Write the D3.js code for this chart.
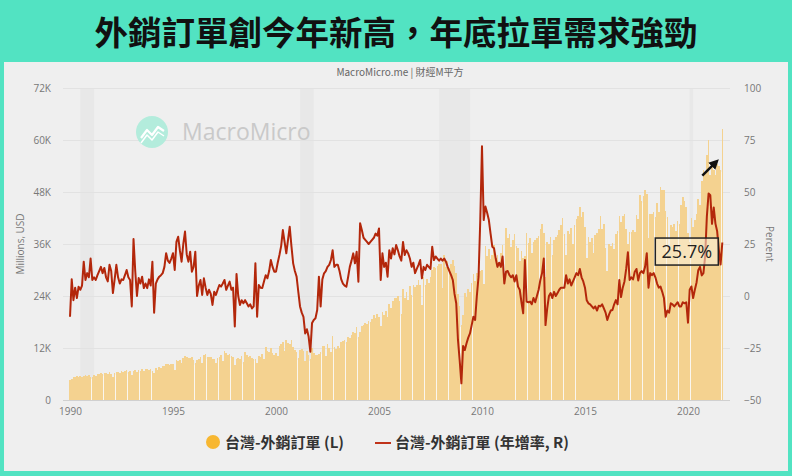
<!DOCTYPE html>
<html><head><meta charset="utf-8">
<script src="https://cdn.jsdelivr.net/npm/d3@7/dist/d3.min.js"></script>
<style>
body{margin:0;background:#52e3c2;}
svg{display:block}
text{font-family:"Open Sans","Noto Sans",sans-serif;}
.cjk{font-family:"Noto Sans CJK TC","Noto Sans CJK SC",sans-serif;}
</style>
</head><body>
<svg id="c" width="792" height="476"></svg>
<script>
// ---------- DATA ----------
const title = "外銷訂單創今年新高，年底拉單需求強勁";
const subtitle = "MacroMicro.me | 財經M平方";
const seriesNames = ["台灣-外銷訂單 (L)", "台灣-外銷訂單 (年增率, R)"];
const startYear = 1990;
// Export orders, monthly, billions USD (axis shows K of millions)
const orders1990 = [4.6,4.8,5.4,5.2,5.5,5.3,5.6,5.4,5.5,5.8,5.6,5.7];
const orders1991 = [5.4,5.2,5.8,5.6,6.0,5.9,6.2,6.0,6.2,6.3,6.0,6.4];
const orders1992 = [6.0,5.3,6.3,6.4,6.5,6.3,6.6,6.5,6.7,7.0,6.5,6.8];
const orders1993 = [5.8,6.7,7.0,6.4,7.0,6.7,7.1,6.8,7.1,7.2,7.0,7.1];
const orders1994 = [6.8,6.2,7.4,7.0,7.6,7.4,7.8,7.8,8.4,8.3,8.1,8.4];
const orders1995 = [8.2,7.0,9.3,9.0,9.3,8.6,9.7,10.2,9.9,9.6,9.8,9.9];
const orders1996 = [9.3,8.5,9.3,9.4,10.0,8.6,10.5,10.6,9.9,9.9,9.9,9.5];
const orders1997 = [9.5,8.5,9.6,9.9,10.4,9.1,11.3,10.9,10.4,10.6,10.2,9.9];
const orders1998 = [8.1,9.4,9.6,9.5,10.2,8.8,11.1,10.5,9.9,10.2,9.6,9.4];
const orders1999 = [9.4,8.5,10.1,9.9,10.6,9.4,12.2,11.4,11.1,12.0,10.9,10.5];
const orders2000 = [10.9,10.2,12.5,13.0,13.4,11.3,13.8,13.2,12.9,13.9,12.2,11.5];
const orders2001 = [11.1,9.7,11.5,11.7,11.3,9.1,11.4,10.3,9.4,12.1,10.8,10.3];
const orders2002 = [10.4,10.6,11.0,12.4,12.5,10.2,13.0,12.0,11.0,14.7,12.3,11.8];
const orders2003 = [12.5,12.0,13.3,13.6,13.8,13.5,14.5,14.2,14.9,15.8,15.5,16.8];
const orders2004 = [14.5,15.8,17.0,17.2,17.8,17.5,18.2,18.0,18.7,19.6,18.9,19.8];
const orders2005 = [19.2,17.0,20.3,19.6,20.6,19.1,22.2,21.2,22.9,23.5,23.5,24.1];
const orders2006 = [22.8,19.9,25.6,23.5,25.0,23.0,26.3,24.2,26.6,26.1,26.6,27.7];
const orders2007 = [26.5,22.0,28.5,26.5,28.0,27.0,28.5,30.0,30.8,30.5,31.0,31.5];
const orders2008 = [31.3,25.8,33.5,30.8,32.0,30.5,31.5,32.3,31.0,29.4,24.5,21.8];
const orders2009 = [17.4,19.6,24.8,23.8,25.6,25.0,27.1,29.0,27.4,29.4,26.8,29.8];
const orders2010 = [30.0,26.7,35.5,33.3,34.9,32.5,33.5,35.7,32.3,33.5,31.1,34.0];
const orders2011 = [35.7,28.3,39.6,37.3,38.4,35.4,36.9,38.2,35.5,35.0,32.0,34.3];
const orders2012 = [32.7,33.2,38.5,36.2,37.3,34.0,36.5,37.0,37.4,37.8,39.5,40.6];
const orders2013 = [38.6,28.5,36.4,36.0,37.6,33.5,36.9,37.7,38.1,39.3,40.5,42.0];
const orders2014 = [38.2,33.5,38.9,38.3,39.6,36.1,40.4,41.7,42.4,44.6,42.3,43.3];
const orders2015 = [39.9,32.8,37.7,36.5,37.5,34.0,38.1,38.5,39.4,42.4,39.5,40.6];
const orders2016 = [35.0,29.8,36.0,35.6,36.3,34.9,38.2,39.0,42.5,41.0,42.5,43.0];
const orders2017 = [39.5,36.1,38.8,38.8,39.2,38.8,42.8,41.7,47.2,46.0,47.0,48.5];
const orders2018 = [47.6,37.5,43.0,42.9,43.5,42.3,45.4,43.5,49.2,48.5,48.5,43.7];
const orders2019 = [42.3,34.5,40.4,40.0,40.6,38.9,41.3,40.6,45.0,46.9,46.0,44.5];
const orders2020 = [38.5,36.5,42.0,40.0,41.5,43.0,46.5,45.0,50.5,53.0,52.5,56.5];
const orders2021 = [60.0,52.0,55.0,53.0,52.0,54.5,54.0,53.0,62.6];
// YoY growth, percent
const yoy1990 = [-10,8,-2,4,-1,4.5,3,5,16.5,7.7,11,9];
const yoy1991 = [18,7.7,9,7.7,10,12,14,11,13.5,9,7,15];
const yoy1992 = [12,1.4,8,15,9,6,8,7.7,10,12.5,9,7.7];
const yoy1993 = [-5,27.4,12,0,8.6,6,9.3,3.8,6,3.8,8,5];
const yoy1994 = [16.5,-8,6,8,9.3,10,11,14,20.6,17,15.9,18];
const yoy1995 = [20.6,12.5,26,28.5,22,16.5,25,31,20,16.5,21.3,11.7];
const yoy1996 = [14,21.3,0,5,7.7,0.5,8.5,4,0.5,3,1,-4.3];
const yoy1997 = [2,0.5,3,5.3,4.5,6,7.7,3,5,6.9,3,4];
const yoy1998 = [-14.7,10.6,0,-4.3,-2,-3.5,-2,-3.5,-5,-4,-6,-5];
const yoy1999 = [15.7,-10,5.3,4,3.8,7,10,8.5,12,17.3,14,11.7];
const yoy2000 = [11.7,16,19.7,24,31.7,26,20.5,27,33.3,24,15.7,12];
const yoy2001 = [9.3,2,-5,-8,-10,-18,-16,-19.5,-26.8,-13,-11.5,-10.7];
const yoy2002 = [-6.7,9.3,-5,8,10.9,12,14,15,17.3,22,14,15];
const yoy2003 = [15,12,8,6,5,4.5,9,14,17,20.5,15.7,21.3];
const yoy2004 = [6.9,35,31.7,28,27,26,25,26,27,28,30,29];
const yoy2005 = [32.5,7.7,20.5,14,16,9.3,22,18,23,20,24.5,22];
const yoy2006 = [19,17,26,19.7,22,20.5,18,14,16,11,13,15];
const yoy2007 = [17.3,8.5,14,12.5,15,14,13,23.7,17.3,19,18,17];
const yoy2008 = [18,17,18,16.5,14,12,10,7.7,1,-3.5,-21,-30.8];
const yoy2009 = [-42,-24,-26,-22.7,-20,-18,-14,-10,-11.5,0,9.3,36.5];
const yoy2010 = [72,36.5,43,40,36.5,30,23.7,23,18,14,16,14];
const yoy2011 = [19,6,11.7,12,10,9,10,7,10,4.5,3,-3];
const yoy2012 = [-8.3,17.3,-2.7,-3,-2.7,-4,-1,-3,0,3,7.7,11];
const yoy2013 = [18,-14,-6,0,1.4,-1,2,0,1.4,3,4,4];
const yoy2014 = [4,10,6,8,5,7,9,11,10,13,9,7];
const yoy2015 = [4,-2,-3.5,-4,-5,-6,-5,-7,-4.7,-5,-4,-6];
const yoy2016 = [-8,-11.5,-9,-7,-6.7,-4,-2,-4,7.7,-0.5,4,7];
const yoy2017 = [13,21,7.7,9,8,11.7,13,7.5,11,12,11,14];
const yoy2018 = [20.6,4,11,10,11,9,6,4,4.5,2,-1,-10];
const yoy2019 = [-7,-8,-3.5,-4,-5,-4,-3,-5,-5,-3,-3.5,-3];
const yoy2020 = [-12.8,3,4.6,-1,3,6.5,12.4,14,9.9,11,19,38.3];
const yoy2021 = [49.3,48.5,34.7,42.6,34.8,31.1,22.1,15.2,25.7];

const leftTicks = [0,12,24,36,48,60,72];
const leftTickLabels = ["0","12K","24K","36K","48K","60K","72K"];
const rightTicks = [-50,-25,0,25,50,75,100];
const xTicks = [1990,1995,2000,2005,2010,2015,2020];
const recessions = [[1990.5,1991.17],[2001.17,2001.83],[2007.92,2009.42],[2020.08,2020.25]];
const annotationText = "25.7%";
const leftTitle = "Millions, USD";
const rightTitle = "Percent";
const watermark = "MacroMicro";

const ordersByYear = [orders1990,orders1991,orders1992,orders1993,orders1994,orders1995,orders1996,orders1997,orders1998,orders1999,orders2000,orders2001,orders2002,orders2003,orders2004,orders2005,orders2006,orders2007,orders2008,orders2009,orders2010,orders2011,orders2012,orders2013,orders2014,orders2015,orders2016,orders2017,orders2018,orders2019,orders2020,orders2021];
const yoyByYear = [yoy1990,yoy1991,yoy1992,yoy1993,yoy1994,yoy1995,yoy1996,yoy1997,yoy1998,yoy1999,yoy2000,yoy2001,yoy2002,yoy2003,yoy2004,yoy2005,yoy2006,yoy2007,yoy2008,yoy2009,yoy2010,yoy2011,yoy2012,yoy2013,yoy2014,yoy2015,yoy2016,yoy2017,yoy2018,yoy2019,yoy2020,yoy2021];

const data = [];
ordersByYear.forEach((arr, yi) => arr.forEach((v, m) => {
  data.push({t: startYear + yi + m/12, orders: v, yoy: yoyByYear[yi][m]});
}));

// ---------- LAYOUT ----------
const svg = d3.select("#c");
const W = 792, H = 476;
const plot = {left: 63, right: 730, top: 88, bottom: 400};

svg.append("rect").attr("width", W).attr("height", H).attr("fill", "#52e3c2");
svg.append("rect").attr("x", 4).attr("y", 62).attr("width", 784).attr("height", 409).attr("fill", "#efefef");

svg.append("text").attr("class","cjk").attr("x", 396).attr("y", 45)
  .attr("text-anchor","middle").attr("font-size", 33.5).attr("font-weight", 700)
  .attr("fill","#111").text(title);

svg.append("text").attr("class","cjk").attr("x", 400).attr("y", 76)
  .attr("text-anchor","middle").attr("font-size", 10).attr("fill","#666").text(subtitle);

const x = d3.scaleLinear().domain([1989.66, 2022.04]).range([plot.left, plot.right]);
const yL = d3.scaleLinear().domain([0, 72]).range([plot.bottom, plot.top]);
const yR = d3.scaleLinear().domain([-50, 100]).range([plot.bottom, plot.top]);

// recession bands
svg.append("g").selectAll("rect").data(recessions).join("rect")
  .attr("x", d => x(d[0])).attr("width", d => x(d[1]) - x(d[0]))
  .attr("y", plot.top).attr("height", plot.bottom - plot.top)
  .attr("fill", "#e8e8e8");

// gridlines
const grid = svg.append("g").attr("transform", `translate(${plot.left},0)`)
  .call(d3.axisLeft(yL).tickValues(leftTicks).tickSize(-(plot.right - plot.left)).tickFormat(""));
grid.select(".domain").remove();
grid.selectAll("line").attr("stroke", "#e2e2e2");
grid.selectAll("line").filter(d => d === 0).attr("stroke", "#d0d0d0");

// watermark
const wm = svg.append("g");
wm.append("circle").attr("cx", 152).attr("cy", 132).attr("r", 16).attr("fill", "#b3ecdc");
wm.append("path").attr("d", "M141,138 L147,130 L152,135 L158,127 L164,131")
  .attr("fill","none").attr("stroke","#fff").attr("stroke-width",2.2).attr("stroke-linejoin","round");
wm.append("path").attr("d", "M141,143 L147,135 L152,140 L158,132 L164,136")
  .attr("fill","none").attr("stroke","#fff").attr("stroke-width",1.5).attr("stroke-linejoin","round");
wm.append("text").attr("x", 182).attr("y", 140).attr("font-size", 23)
  .attr("font-family", "Lato, 'Open Sans', sans-serif").attr("fill", "#c9c9c9").text(watermark);

// bars (crisp columns, like the source chart; leftover 1px seams show light)
const halfW = 0.805;
const cols = data.map(d => ({
  l: Math.round(x(d.t) - halfW),
  r: Math.round(x(d.t) + halfW),
  top: yL(d.orders)
}));
cols.forEach(c => { if (c.r <= c.l) c.r = c.l + 1; });
const seams = [];
for (let k = 0; k < cols.length - 1; k++) {
  if (cols[k + 1].l > cols[k].r) {
    seams.push({l: cols[k].r, r: cols[k + 1].l, top: Math.max(cols[k].top, cols[k + 1].top)});
  }
}
svg.append("g").attr("shape-rendering","crispEdges")
  .selectAll("rect").data(seams).join("rect")
  .attr("x", d => d.l).attr("width", d => d.r - d.l)
  .attr("y", d => d.top + 2).attr("height", d => yL(0) - d.top - 2)
  .attr("fill", "#faf6ee");
svg.append("g").attr("shape-rendering","crispEdges")
  .selectAll("rect").data(cols).join("rect")
  .attr("x", d => d.l).attr("width", d => d.r - d.l)
  .attr("y", d => d.top).attr("height", d => yL(0) - d.top)
  .attr("fill", "#f4d290");

// line
svg.append("path").datum(data)
  .attr("d", d3.line().x(d => x(d.t)).y(d => yR(d.yoy)))
  .attr("fill", "none").attr("stroke", "#b3270b").attr("stroke-width", 2)
  .attr("stroke-linejoin", "round");

// axes
const gl = svg.append("g").attr("transform", `translate(${plot.left},0)`)
  .call(d3.axisLeft(yL).tickValues(leftTicks).tickSize(0).tickPadding(12)
    .tickFormat((d,i) => leftTickLabels[i]));
gl.select(".domain").remove();
gl.selectAll("text").attr("font-size", 10).attr("fill", "#777").attr("font-family","'Open Sans',sans-serif");

const gr = svg.append("g").attr("transform", `translate(${plot.right},0)`)
  .call(d3.axisRight(yR).tickValues(rightTicks).tickSize(0).tickPadding(14));
gr.select(".domain").remove();
gr.selectAll("text").attr("font-size", 10).attr("fill", "#777").attr("font-family","'Open Sans',sans-serif");

const gx = svg.append("g").attr("transform", `translate(0,${plot.bottom})`)
  .call(d3.axisBottom(x).tickValues(xTicks).tickSize(0).tickPadding(8).tickFormat(d3.format("d")));
gx.select(".domain").remove();
gx.selectAll("text").attr("font-size", 10).attr("fill", "#777").attr("font-family","'Open Sans',sans-serif");

svg.append("text").attr("transform", `translate(24,${(plot.top+plot.bottom)/2}) rotate(-90)`)
  .attr("text-anchor","middle").attr("font-size", 10).attr("fill", "#777").text(leftTitle);
svg.append("text").attr("transform", `translate(766,${(plot.top+plot.bottom)/2}) rotate(90)`)
  .attr("text-anchor","middle").attr("font-size", 10).attr("fill", "#777").text(rightTitle);

// annotation
const last = data[data.length - 1];
const bx1 = x(last.t) - 4, by = yR(last.yoy) + 9;
const box = svg.append("g");
box.append("rect").attr("x", bx1 - 63).attr("y", by - 13.5).attr("width", 63).attr("height", 27)
  .attr("fill", "rgba(250,240,220,0.55)").attr("stroke", "#222").attr("stroke-width", 1.5);
box.append("text").attr("x", bx1 - 31.5).attr("y", by + 6.5).attr("text-anchor","middle")
  .attr("font-size", 18).attr("fill","#222").text(annotationText);

// arrow
const ax2 = x(last.t) - 4, ay2 = yL(last.orders) + 31;
svg.append("defs").append("marker").attr("id","ah").attr("viewBox","0 0 10 10")
  .attr("refX", 5).attr("refY", 5).attr("markerWidth", 4).attr("markerHeight", 4).attr("orient","auto")
  .append("path").attr("d","M0,0 L10,5 L0,10 z").attr("fill","#111");
svg.append("line").attr("x1", ax2 - 16).attr("y1", ay2 + 16).attr("x2", ax2 - 3).attr("y2", ay2 + 3)
  .attr("stroke","#111").attr("stroke-width", 2.5).attr("marker-end","url(#ah)");

// legend
const lg = svg.append("g");
lg.append("circle").attr("cx", 213).attr("cy", 442).attr("r", 7).attr("fill", "#f7b731");
lg.append("text").attr("class","cjk").attr("x", 225).attr("y", 448).attr("font-size", 15)
  .attr("font-weight", 700).attr("fill", "#333").text(seriesNames[0]);
lg.append("line").attr("x1", 375).attr("x2", 391).attr("y1", 443).attr("y2", 443)
  .attr("stroke", "#c0331a").attr("stroke-width", 2);
lg.append("text").attr("class","cjk").attr("x", 395).attr("y", 448).attr("font-size", 15)
  .attr("font-weight", 700).attr("fill", "#333").text(seriesNames[1]);
</script>
</body></html>
